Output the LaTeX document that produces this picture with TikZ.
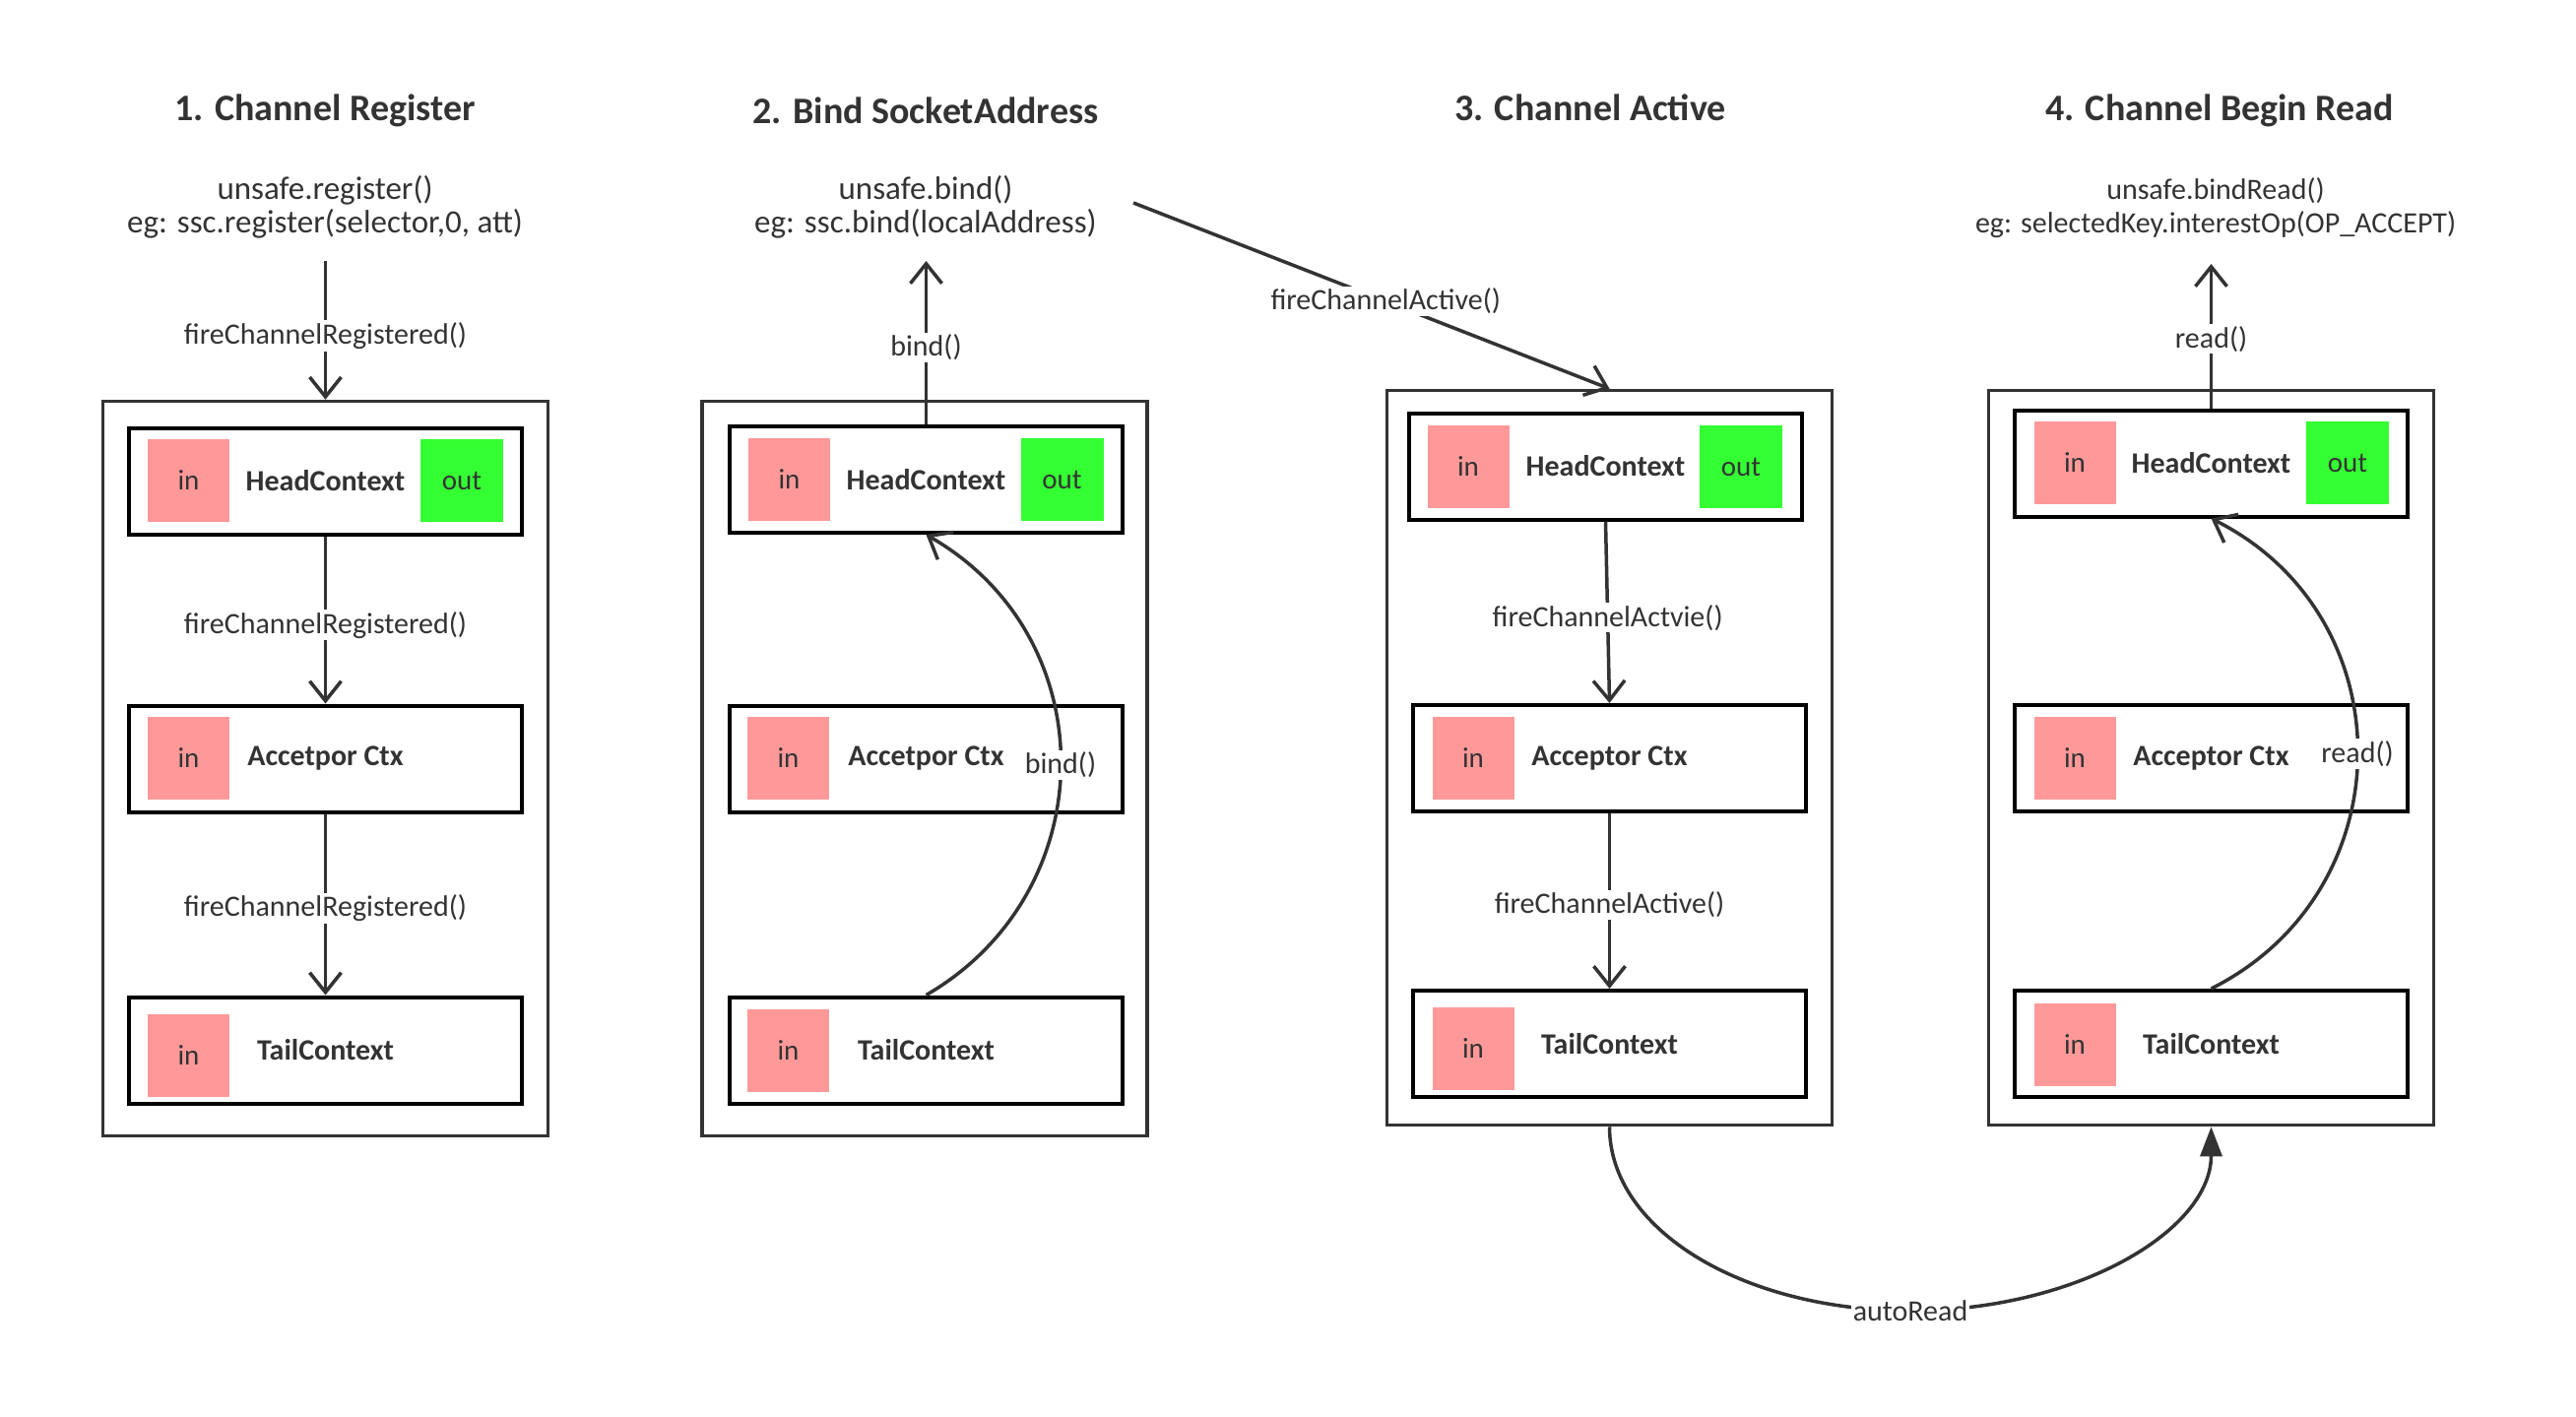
\documentclass[tikz,border=0pt]{standalone}
\usepackage{fontspec}
\setmainfont{Carlito}
\usetikzlibrary{arrows.meta}
\definecolor{ink}{RGB}{51,51,51}
\definecolor{inpink}{RGB}{255,153,153}
\definecolor{outgreen}{RGB}{51,255,51}
\begin{document}
\begin{tikzpicture}[x=1pt,y=-1pt,
  obox/.style={draw=ink, line width=3.5pt, minimum width=452pt, minimum height=746pt, inner sep=0pt},
  ibox/.style={draw=black, line width=4pt, minimum width=399pt, minimum height=108pt, inner sep=0pt,
    font=\bfseries\fontsize{30}{34}\selectfont, text=ink},
  insq/.style={fill=inpink, minimum width=83pt, minimum height=84pt, inner sep=0pt,
    font=\fontsize{29}{32}\selectfont, text=ink},
  outsq/.style={fill=outgreen, minimum width=84pt, minimum height=84pt, inner sep=0pt,
    font=\fontsize{29}{32}\selectfont, text=ink},
  ttl/.style={font=\bfseries\fontsize{38}{44}\selectfont, text=ink},
  subt/.style={align=center, font=\fontsize{30}{34}\selectfont, text=ink},
  subtw/.style={align=center, font=\fontsize{33}{34}\selectfont, text=ink},
  lbl/.style={fill=white, inner sep=2pt, font=\fontsize{30}{34}\selectfont, text=ink},
  conn/.style={draw=ink, line width=3.5pt, -{Straight Barb[length=20pt,width=32pt]}},
  fillarrow/.style={draw=ink, line width=3.5pt, -{Triangle[length=30pt,width=22pt]}}
]
\useasboundingbox (0,0) rectangle (2616,1438);

% titles
\node[ttl] (T1) at (330,112) {1. Channel Register};
\node[ttl] (T2) at (940,112) {2. Bind SocketAddress};
\node[ttl] (T3) at (1615,109) {3. Channel Active};
\node[ttl] (T4) at (2254,112) {4. Channel Begin Read};

% subtitles
\node[subtw] (S1) at (330,210) {unsafe.register()\\eg: ssc.register(selector,0, att)};
\node[subtw] (S2) at (940,210) {unsafe.bind()\\eg: ssc.bind(localAddress)};
\node[subt] (S4) at (2250,211) {unsafe.bindRead()\\eg: selectedKey.interestOp(OP\_ACCEPT)};

% outer boxes
\node[obox] (O1) at (330.5,780.5) {};
\node[obox] (O2) at (939,780.5) {};
\node[obox] (O3) at (1634.5,769.5) {};
\node[obox] (O4) at (2245.5,769.5) {};

% column 1
\node[ibox] (H1) at (330.5,488.5) {HeadContext};
\node[ibox] (A1) at (330.5,770.5) {Accetpor Ctx};
\node[ibox] (L1) at (330.5,1066.5) {TailContext};
\node[insq] (H1i) at (191.5,488) {in};
\node[outsq] (H1o) at (469,488) {out};
\node[insq] (A1i) at (191.5,770) {in};
\node[insq] (L1i) at (191.5,1072) {in};

% column 2
\node[ibox] (H2) at (940.5,487) {HeadContext};
\node[ibox] (A2) at (940.5,770.5) {Accetpor Ctx};
\node[ibox] (L2) at (940.5,1066.5) {TailContext};
\node[insq] (H2i) at (801.5,487) {in};
\node[outsq] (H2o) at (1078.5,487) {out};
\node[insq] (A2i) at (800.5,770) {in};
\node[insq] (L2i) at (800.5,1067) {in};

% column 3
\node[ibox] (H3) at (1630.5,473.5) {HeadContext};
\node[ibox] (A3) at (1634.5,770) {Acceptor Ctx};
\node[ibox] (L3) at (1634.5,1060) {TailContext};
\node[insq] (H3i) at (1491,474) {in};
\node[outsq] (H3o) at (1768,474) {out};
\node[insq] (A3i) at (1496,770) {in};
\node[insq] (L3i) at (1496,1065) {in};

% column 4
\node[ibox] (H4) at (2245.5,470.5) {HeadContext};
\node[ibox] (A4) at (2245.5,770) {Acceptor Ctx};
\node[ibox] (L4) at (2245.5,1060) {TailContext};
\node[insq] (H4i) at (2107,470) {in};
\node[outsq] (H4o) at (2384,470) {out};
\node[insq] (A4i) at (2107,770) {in};
\node[insq] (L4i) at (2107,1060.5) {in};

% free ends
\coordinate (s1) at (330.5,265);
\coordinate (b2) at (940.5,265);
\coordinate (d3) at (1151,206);
\coordinate (r4) at (2245.5,268);

% column 1 connectors
\draw[conn] (s1) -- node[lbl,pos=0.54] (c1a) {fireChannelRegistered()} (O1.north);
\draw[conn] (H1.south) -- node[lbl,pos=0.53] (c1b) {fireChannelRegistered()} (A1.north);
\draw[conn] (A1.south) -- node[lbl,pos=0.52] (c1c) {fireChannelRegistered()} (L1.north);

% column 2 connectors
\draw[conn] (H2.north) -- node[lbl,pos=0.47] (c2a) {bind()} (b2);
\draw[conn] (L2.north) .. controls (1121,906) and (1124,648) .. node[lbl,pos=0.5] (c2b) {bind()} (H2.south);

% column 3 connectors
\draw[conn] (d3) -- node[lbl,pos=0.53] (c3a) {fireChannelActive()} (O3.north);
\draw[conn] (H3.south) -- node[lbl,pos=0.53] (c3b) {fireChannelActvie()} (A3.north);
\draw[conn] (A3.south) -- node[lbl,pos=0.52] (c3c) {fireChannelActive()} (L3.north);

% column 4 connectors
\draw[conn] (H4.north) -- node[lbl,pos=0.48] (c4a) {read()} (r4);
\draw[conn] (L4.north) .. controls (2443,905) and (2444,626) .. node[lbl,pos=0.5] (c4b) {read()} (H4.south);

% autoRead
\draw[fillarrow] (O3.south) .. controls (1634.5,1250) and (1772,1331) .. (1940,1331)
  node[lbl] (c5) {autoRead}
  .. controls (2108,1331) and (2245.5,1250) .. (O4.south);
\end{tikzpicture}
\end{document}
